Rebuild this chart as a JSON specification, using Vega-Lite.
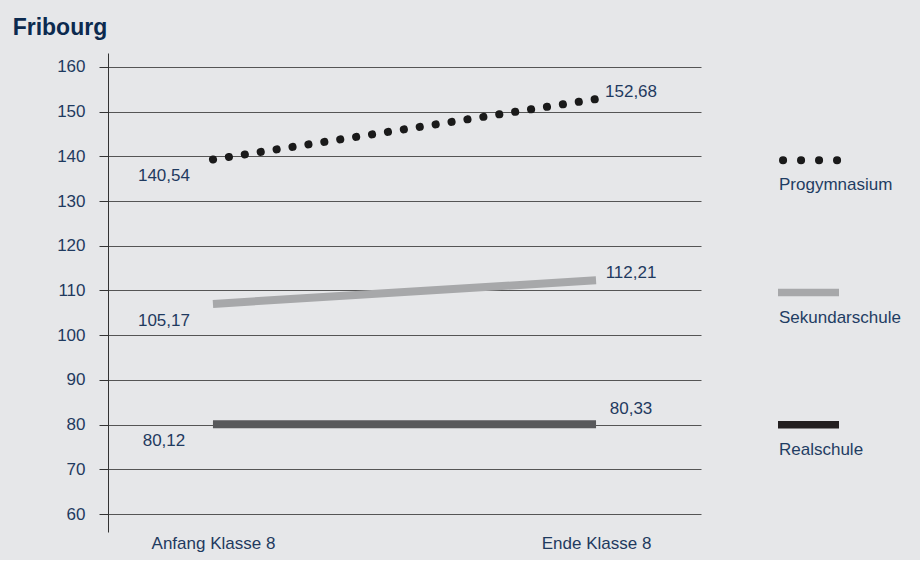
{
  "$schema": "https://vega.github.io/schema/vega-lite/v6.json",
  "background": "#e6e7e9",
  "padding": {"left": 12, "top": 17, "right": 19, "bottom": 9},
  "title": {"text": "Fribourg", "anchor": "start", "frame": "bounds", "fontSize": 23, "fontWeight": "bold", "color": "#0c2a4f", "offset": 13, "dx": -44},
  "config": {"font": "Liberation Sans", "view": {"stroke": null}},
  "datasets": {
    "scores": [
      {"series": "Progymnasium", "zeitpunkt": "Anfang Klasse 8", "wert": 139.3, "label": "140,54"},
      {"series": "Progymnasium", "zeitpunkt": "Ende Klasse 8", "wert": 152.8, "label": "152,68"},
      {"series": "Sekundarschule", "zeitpunkt": "Anfang Klasse 8", "wert": 107.0, "label": "105,17"},
      {"series": "Sekundarschule", "zeitpunkt": "Ende Klasse 8", "wert": 112.3, "label": "112,21"},
      {"series": "Realschule", "zeitpunkt": "Anfang Klasse 8", "wert": 80.1, "label": "80,12"},
      {"series": "Realschule", "zeitpunkt": "Ende Klasse 8", "wert": 80.1, "label": "80,33"}
    ],
    "schulen": [
      {"series": "Progymnasium"},
      {"series": "Sekundarschule"},
      {"series": "Realschule"}
    ]
  },
  "spacing": 73,
  "resolve": {"scale": {"x": "independent", "y": "independent", "color": "independent"}},
  "hconcat": [
    {
      "width": 593,
      "height": 479,
      "data": {"name": "scores"},
      "encoding": {
        "x": {"field": "zeitpunkt", "type": "ordinal", "sort": ["Anfang Klasse 8", "Ende Klasse 8"],
          "scale": {"type": "point", "padding": 0.274},
          "axis": {"title": null, "labelAngle": 0, "domain": false, "ticks": false, "labelFontSize": 17, "labelColor": "#1f3a5f", "labelPadding": 3}},
        "y": {"field": "wert", "type": "quantitative",
          "scale": {"domain": [56, 163.1], "nice": false, "zero": false},
          "axis": {"title": null, "values": [60, 70, 80, 90, 100, 110, 120, 130, 140, 150, 160], "grid": true, "gridColor": "#555555", "gridOpacity": 1, "domainColor": "#333333", "tickColor": "#333333", "tickSize": 9, "labelPadding": 14, "labelFontSize": 17, "labelColor": "#1f3a5f"}}
      },
      "layer": [
        {
          "transform": [{"filter": "datum.series !== 'Progymnasium'"}],
          "mark": {"type": "line", "strokeWidth": 8, "strokeCap": "butt"},
          "encoding": {"color": {"field": "series", "type": "nominal", "scale": {"domain": ["Sekundarschule", "Realschule"], "range": ["#a7a8aa", "#58595b"]}, "legend": null}}
        },
        {
          "transform": [{"filter": "datum.series === 'Progymnasium'"}],
          "mark": {"type": "line", "strokeWidth": 8, "strokeCap": "round", "strokeDash": [0.1, 16.0], "color": "#1a1a1a"}
        },
        {
          "transform": [{"filter": "datum.zeitpunkt === 'Anfang Klasse 8'"}],
          "mark": {"type": "text", "align": "center", "dx": -49, "dy": 17, "fontSize": 17, "color": "#1f3a5f"},
          "encoding": {"text": {"field": "label"}}
        },
        {
          "transform": [{"filter": "datum.zeitpunkt === 'Ende Klasse 8' && datum.series !== 'Realschule'"}],
          "mark": {"type": "text", "align": "center", "dx": 35, "dy": -7, "fontSize": 17, "color": "#1f3a5f"},
          "encoding": {"text": {"field": "label"}}
        },
        {
          "transform": [{"filter": "datum.zeitpunkt === 'Ende Klasse 8' && datum.series === 'Realschule'"}],
          "mark": {"type": "text", "align": "center", "dx": 35, "dy": -15, "fontSize": 17, "color": "#1f3a5f"},
          "encoding": {"text": {"field": "label"}}
        }
      ]
    },
    {
      "width": 62,
      "height": 479,
      "data": {"name": "schulen"},
      "encoding": {
        "y": {"field": "series", "type": "ordinal", "sort": ["Progymnasium", "Sekundarschule", "Realschule"], "scale": {"type": "point", "padding": 0.81}, "axis": null}
      },
      "layer": [
        {
          "transform": [{"filter": "datum.series === 'Progymnasium'"}],
          "mark": {"type": "rule", "strokeWidth": 8, "strokeCap": "round", "strokeDash": [0.1, 17.9], "color": "#1a1a1a"},
          "encoding": {
            "x": {"datum": 5, "type": "quantitative", "scale": {"domain": [0, 62], "nice": false}, "axis": null},
            "x2": {"datum": 59.2}
          }
        },
        {
          "transform": [{"filter": "datum.series !== 'Progymnasium'"}],
          "mark": {"type": "rule", "strokeWidth": 7.5, "strokeCap": "butt"},
          "encoding": {
            "x": {"datum": 0, "type": "quantitative", "scale": {"domain": [0, 62], "nice": false}, "axis": null},
            "x2": {"datum": 61},
            "color": {"field": "series", "type": "nominal", "scale": {"domain": ["Sekundarschule", "Realschule"], "range": ["#a7a8aa", "#231f20"]}, "legend": null}
          }
        },
        {
          "mark": {"type": "text", "align": "left", "dy": 25, "fontSize": 17, "color": "#1f3d63"},
          "encoding": {
            "x": {"datum": 1, "type": "quantitative", "scale": {"domain": [0, 62], "nice": false}, "axis": null},
            "text": {"field": "series"}
          }
        }
      ]
    }
  ]
}
